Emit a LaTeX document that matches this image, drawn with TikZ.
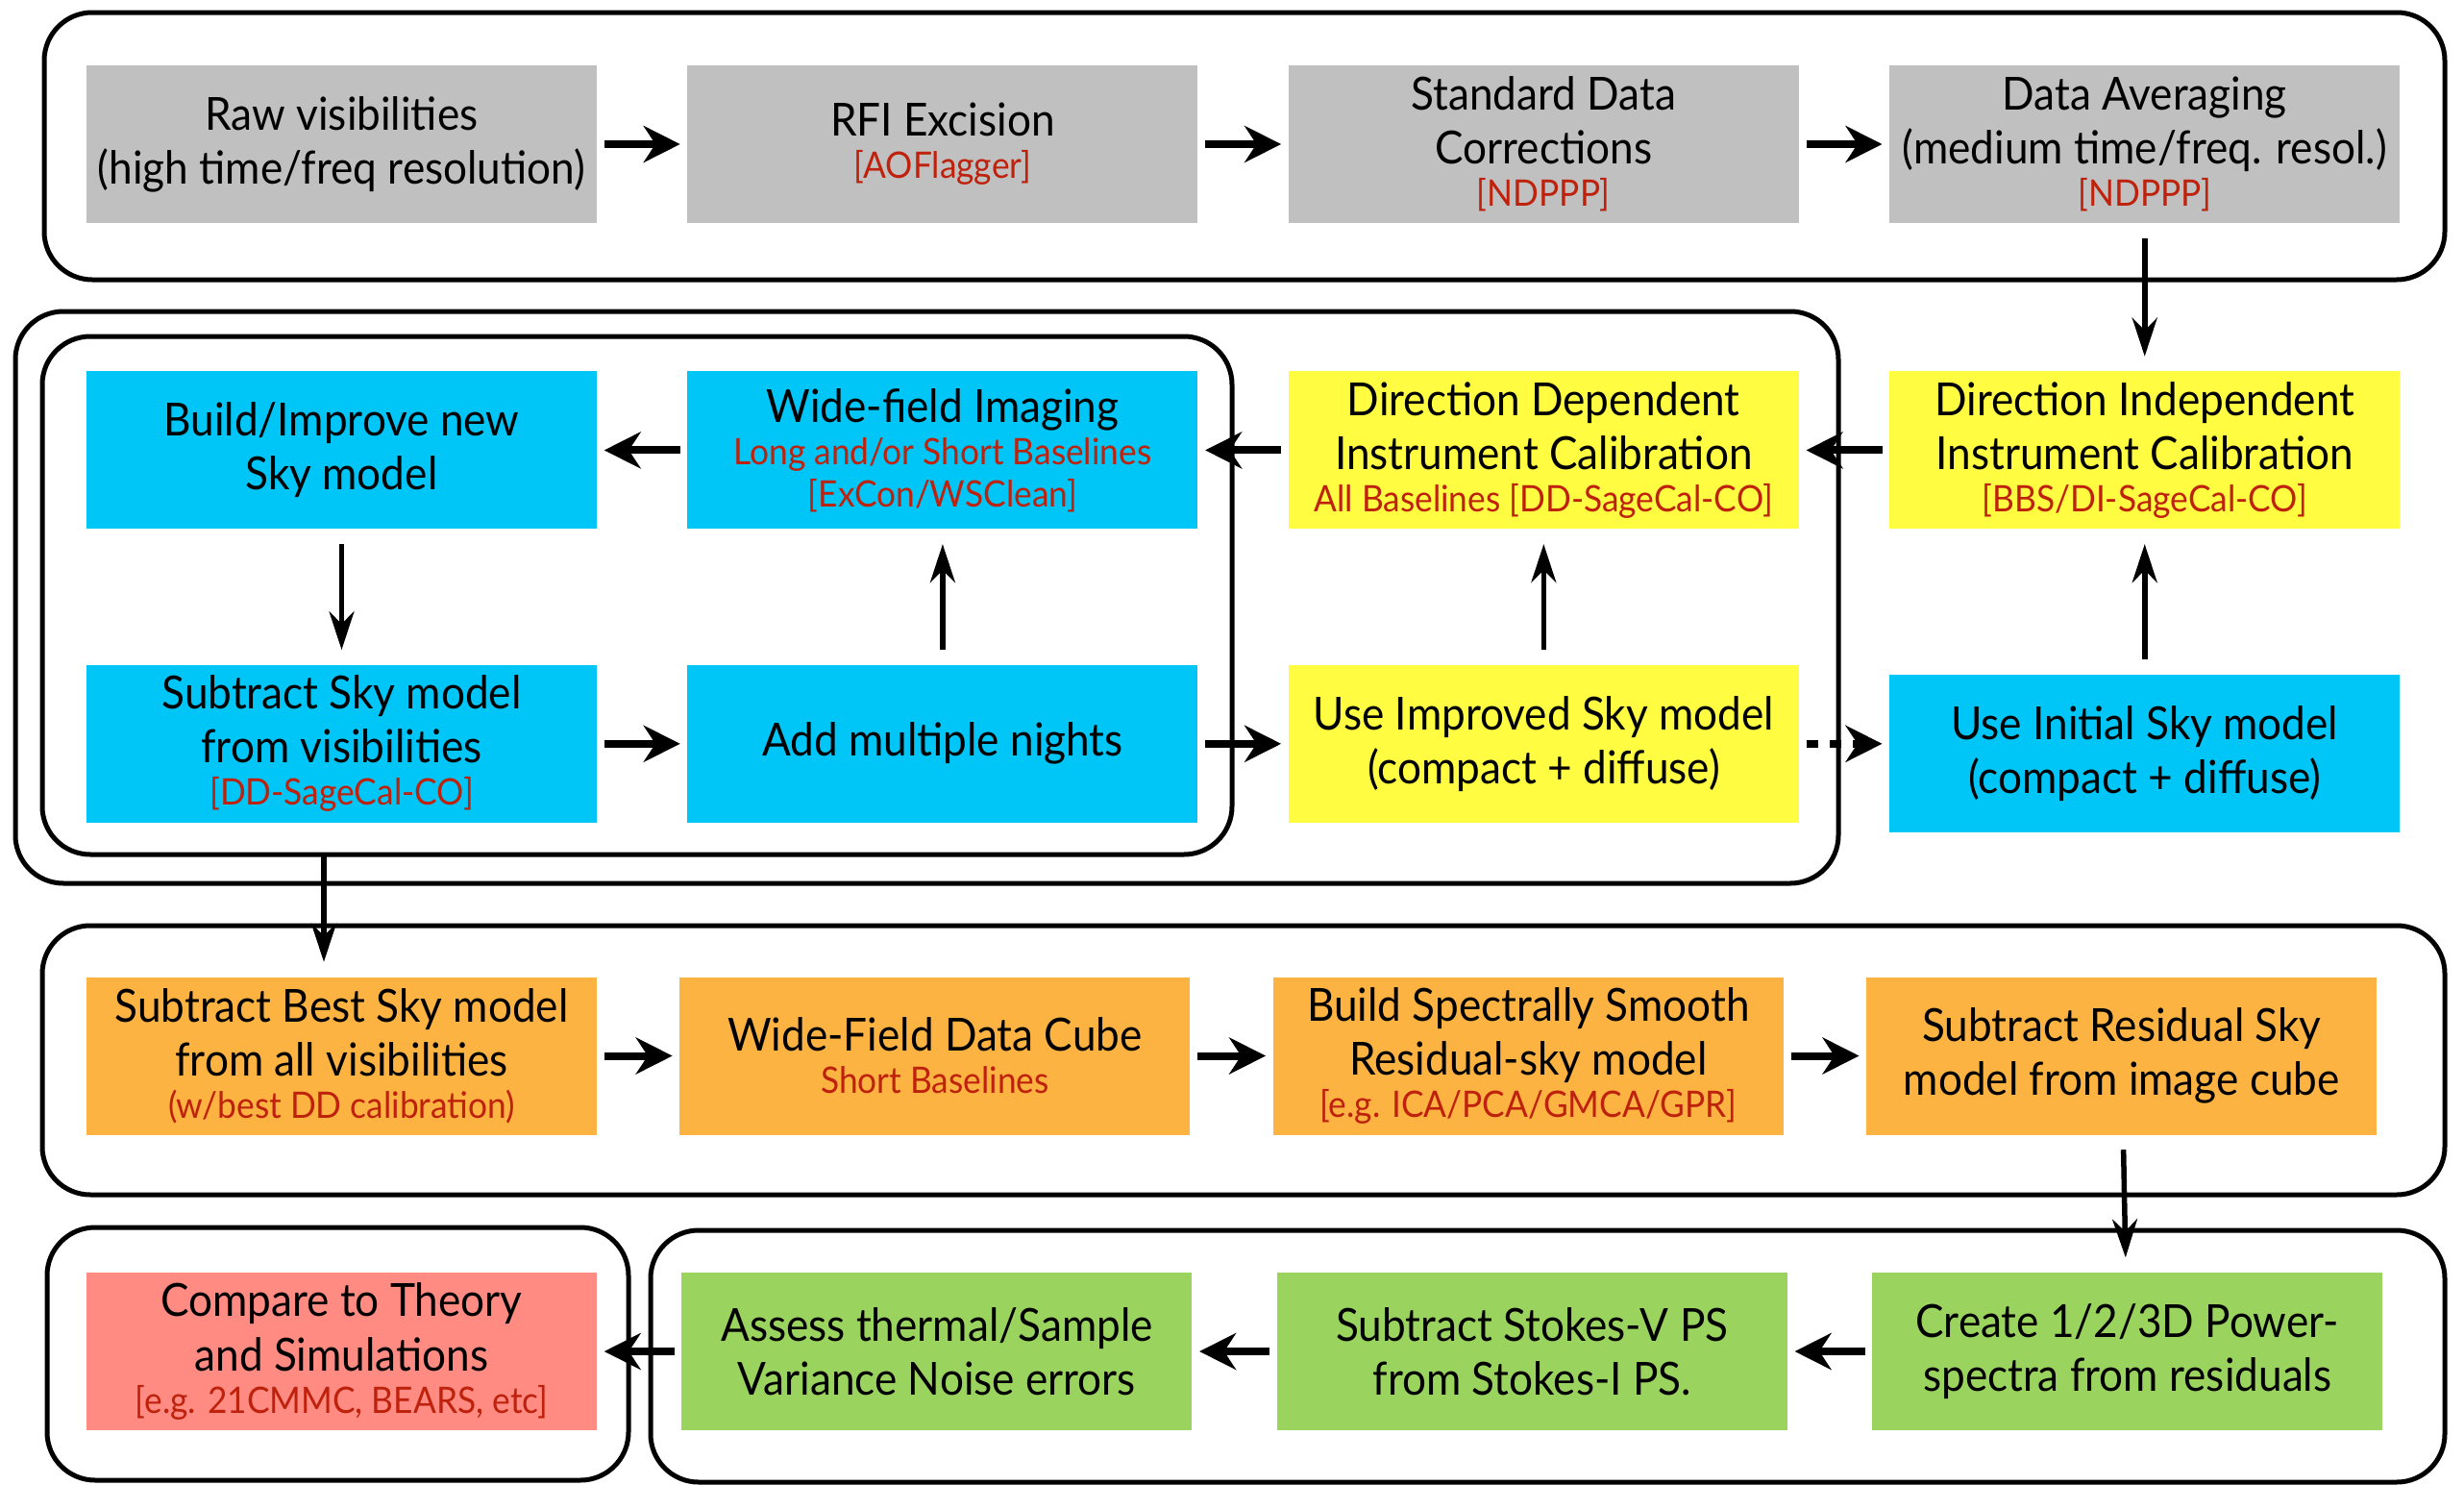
\documentclass[tikz,border=0pt]{standalone}
\usepackage{fontspec}
\setmainfont{Lato}[FakeStretch=0.93]
\usetikzlibrary{arrows.meta, positioning}
\definecolor{boxgrey}{HTML}{C0C0C0}
\definecolor{boxblue}{HTML}{00C6F8}
\definecolor{boxyellow}{HTML}{FFFC41}
\definecolor{boxorange}{HTML}{FDB342}
\definecolor{boxgreen}{HTML}{9AD45F}
\definecolor{boxpink}{HTML}{FF8B82}
\definecolor{toolred}{HTML}{BE220C}
\newcommand{\redtxt}[1]{{\fontsize{10.8}{13}\selectfont\color{toolred}#1}}

\begin{document}
\begin{tikzpicture}[
    x=1mm, y=1mm,
    font=\fontsize{13.5}{16}\selectfont,
    node distance=14mm and 9.3mm,
    stage/.style={minimum width=53.1mm, minimum height=16.4mm, align=center, inner sep=1pt},
    greybox/.style={stage, fill=boxgrey},
    bluebox/.style={stage, fill=boxblue},
    yellowbox/.style={stage, fill=boxyellow},
    orangebox/.style={stage, fill=boxorange},
    greenbox/.style={stage, fill=boxgreen},
    pinkbox/.style={stage, fill=boxpink},
    frame/.style={line width=0.5mm, rounded corners=5mm},
    ar/.style={-{Stealth[length=3.8mm, width=3.8mm]}, line width=0.8mm, shorten <=0.7mm, shorten >=0.7mm},
    thinar/.style={-{Stealth[length=4mm, width=2.6mm]}, line width=0.55mm, shorten <=1.5mm, shorten >=1.5mm}
]
\useasboundingbox (0,0) rectangle (256.4,-154.5);
\draw[frame] (4.6,-1.3) rectangle (254.4,-29.1);
\draw[frame] (1.6,-32.4) rectangle (191.3,-91.9);
\draw[frame] (4.4,-35.0) rectangle (128.2,-88.9);
\draw[frame] (4.4,-96.3) rectangle (254.4,-124.3);
\draw[frame] (4.9,-127.7) rectangle (65.4,-154.0);
\draw[frame] (67.7,-128.0) rectangle (254.4,-154.2);

\node[greybox] (raw) at (35.55,-15) {Raw visibilities\\(high time/freq resolution)};
\node[greybox, right=of raw] (rfi) {RFI Excision\\[-3.5pt]\redtxt{[AOFlagger]}};
\node[greybox, right=of rfi] (std) {Standard Data\\Corrections\\[-3.5pt]\redtxt{[NDPPP]}};
\node[greybox, right=of std] (avg) {Data Averaging\\(medium time/freq. resol.)\\[-3.5pt]\redtxt{[NDPPP]}};

\node[yellowbox, below=15.3mm of avg] (di) {Direction Independent\\Instrument Calibration\\[-3.5pt]\redtxt{[BBS/DI-SageCal-CO]}};
\node[yellowbox, left=of di] (dd) {Direction Dependent\\Instrument Calibration\\[-3.5pt]\redtxt{All Baselines [DD-SageCal-CO]}};
\node[bluebox, left=of dd] (wide) {Wide-field Imaging\\[-3.5pt]\redtxt{Long and/or Short Baselines}\\[-3.5pt]\redtxt{[ExCon/WSClean]}};
\node[bluebox, left=of wide] (build) {Build/Improve new\\Sky model};

\node[bluebox, below=of build] (sub) {Subtract Sky model\\from visibilities\\[-3.5pt]\redtxt{[DD-SageCal-CO]}};
\node[bluebox, right=of sub] (add) {Add multiple nights};
\node[yellowbox, right=of add] (useimp) {Use Improved Sky model\\(compact + diffuse)};
\node[bluebox, below=15mm of di] (useinit) {Use Initial Sky model\\(compact + diffuse)};

\node[orangebox] (sbest) at (35.55,-109.85) {Subtract Best Sky model\\from all visibilities\\[-3.5pt]\redtxt{(w/best DD calibration)}};
\node[orangebox, right=8.5mm of sbest] (cube) {Wide-Field Data Cube\\[-3.5pt]\redtxt{Short Baselines}};
\node[orangebox, right=8.5mm of cube] (spec) {Build Spectrally Smooth\\Residual-sky model\\[-3.5pt]\redtxt{[e.g. ICA/PCA/GMCA/GPR]}};
\node[orangebox, right=8.5mm of spec] (resid) {Subtract Residual Sky\\model from image cube};

\node[pinkbox] (compare) at (35.55,-140.6) {Compare to Theory\\and Simulations\\[-3.5pt]\redtxt{[e.g. 21CMMC, BEARS, etc]}};
\node[greenbox, right=8.7mm of compare] (assess) {Assess thermal/Sample\\Variance Noise errors};
\node[greenbox, right=8.7mm of assess] (stokes) {Subtract Stokes-V PS\\from Stokes-I PS.};
\node[greenbox, right=8.7mm of stokes] (create) {Create 1/2/3D Power-\\spectra from residuals};

\foreach \a/\b in {raw/rfi, rfi/std, std/avg, di/dd, dd/wide, wide/build, sub/add, add/useimp,
                   sbest/cube, cube/spec, spec/resid, create/stokes, stokes/assess, assess/compare}
   \draw[ar] (\a) -- (\b);
\foreach \a/\b in {avg/di, build/sub, add/wide, useimp/dd, useinit/di, resid/create}
   \draw[thinar] (\a) -- (\b);
\draw[ar, dash pattern=on 1.2mm off 1.2mm] (useimp.east) -- (useimp.east -| useinit.west);
\coordinate (loopout) at (33.7,-88.9);
\draw[thinar, shorten <=0mm] (loopout) -- (loopout |- sbest.north);
\end{tikzpicture}
\end{document}
